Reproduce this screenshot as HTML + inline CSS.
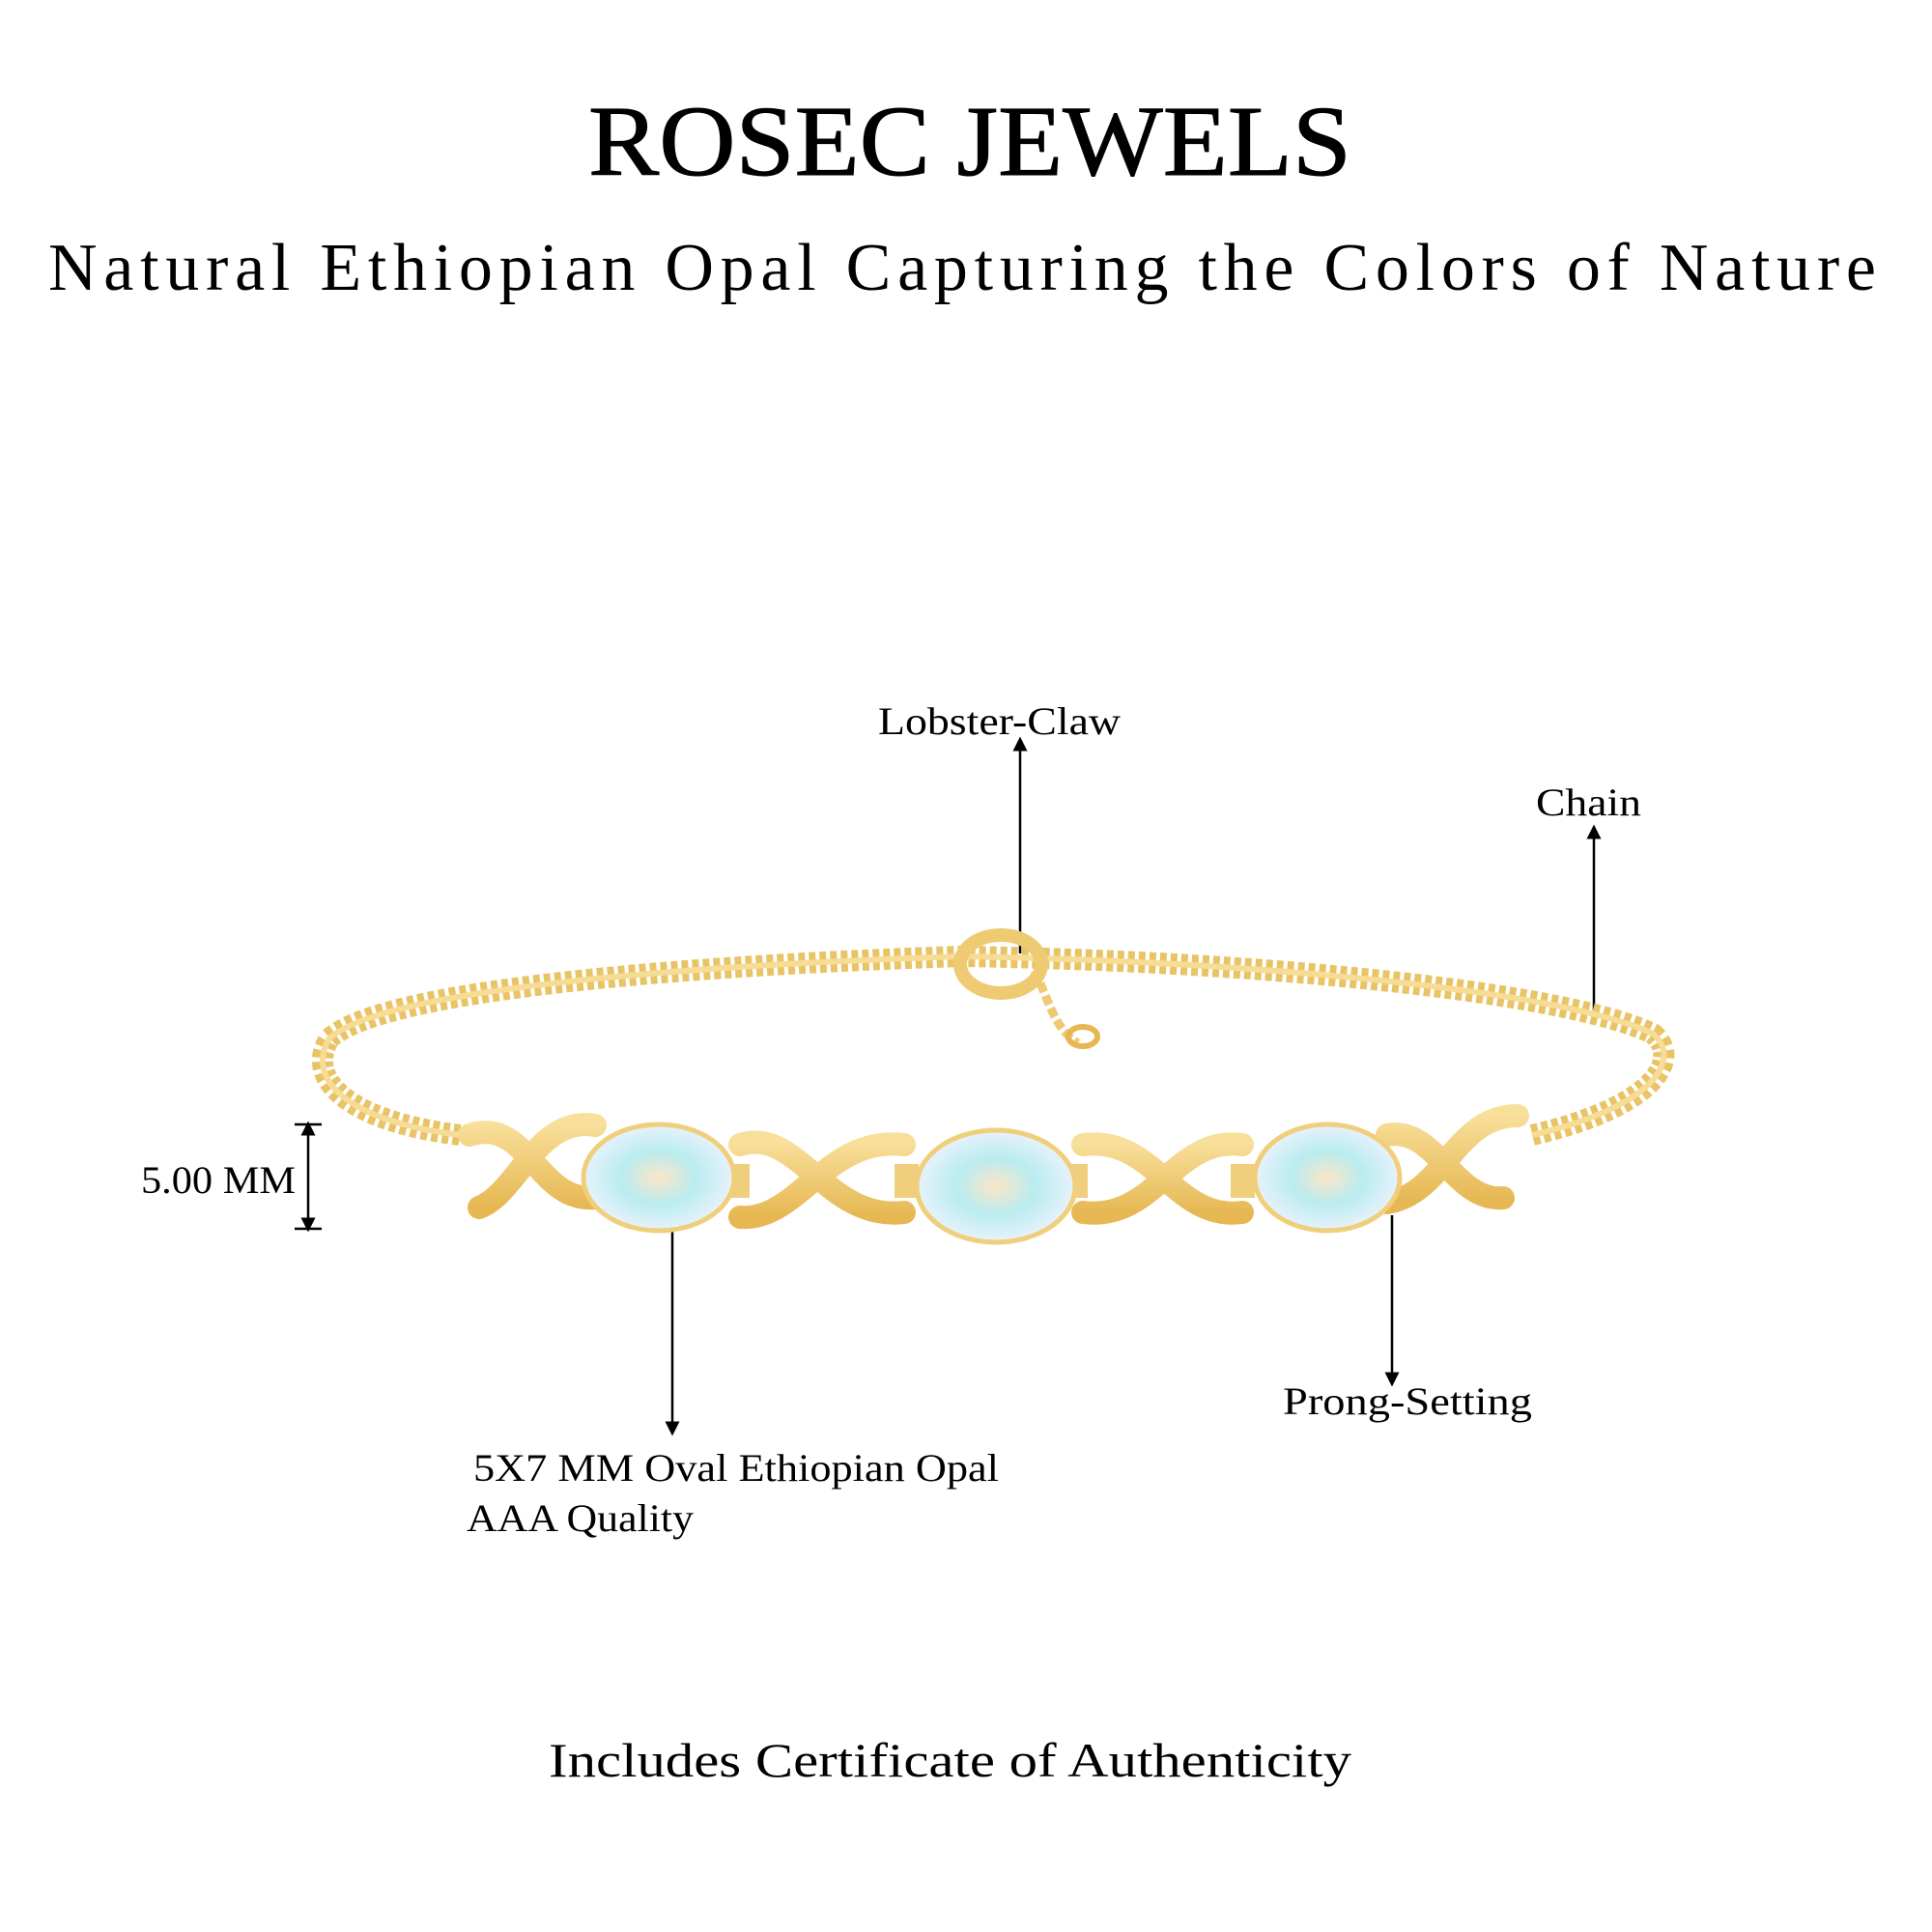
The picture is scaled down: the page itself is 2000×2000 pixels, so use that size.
<!DOCTYPE html>
<html><head><meta charset="utf-8"><style>html,body{margin:0;padding:0;background:#fff}svg{display:block}</style></head>
<body>
<svg width="2000" height="2000" viewBox="0 0 2000 2000" xmlns="http://www.w3.org/2000/svg" font-family="'Liberation Serif', serif">
<defs>
<linearGradient id="g" x1="0" y1="0" x2="0" y2="1"><stop offset="0" stop-color="#f8df9a"/><stop offset="1" stop-color="#e6b752"/></linearGradient>
<radialGradient id="o"><stop offset="0" stop-color="#fbe6c8"/><stop offset="0.5" stop-color="#b9ecf0"/><stop offset="1" stop-color="#e8f2fb"/></radialGradient>
<marker id="a" viewBox="0 0 10 10" refX="5" refY="5" markerWidth="6" markerHeight="6" orient="auto-start-reverse"><path d="M0,0L10,5L0,10z" fill="#000"/></marker>
</defs>
<g transform="translate(-4,-5)">
<text x="1008" y="186" font-size="104" text-anchor="middle" textLength="790" lengthAdjust="spacingAndGlyphs" stroke="#000" stroke-width="1">ROSEC JEWELS</text>
<text x="1000" y="305" font-size="70" text-anchor="middle" textLength="1892" lengthAdjust="spacing">Natural Ethiopian Opal Capturing the Colors of Nature</text>
<text x="913" y="765" font-size="40" textLength="251" lengthAdjust="spacingAndGlyphs">Lobster-Claw</text>
<text x="1594" y="849" font-size="40" textLength="109" lengthAdjust="spacingAndGlyphs">Chain</text>
<text x="150" y="1240" font-size="40" textLength="160" lengthAdjust="spacingAndGlyphs">5.00 MM</text>
<text x="494" y="1538" font-size="40" textLength="544" lengthAdjust="spacingAndGlyphs">5X7 MM Oval Ethiopian Opal</text>
<text x="487" y="1590" font-size="40" textLength="235" lengthAdjust="spacingAndGlyphs">AAA Quality</text>
<text x="1332" y="1469" font-size="40" textLength="258" lengthAdjust="spacingAndGlyphs">Prong-Setting</text>
<text x="572" y="1844" font-size="50" textLength="831" lengthAdjust="spacingAndGlyphs">Includes Certificate of Authenticity</text>
<g stroke="#000" stroke-width="2.5" fill="none">
<line x1="1060" y1="992" x2="1060" y2="775" marker-end="url(#a)"/>
<line x1="1654" y1="1058" x2="1654" y2="866" marker-end="url(#a)"/>
<line x1="700" y1="1276" x2="700" y2="1484" marker-end="url(#a)"/>
<line x1="1445" y1="1263" x2="1445" y2="1433" marker-end="url(#a)"/>
<line x1="323" y1="1173" x2="323" y2="1273" marker-start="url(#a)" marker-end="url(#a)"/>
<line x1="309" y1="1169" x2="337" y2="1169"/><line x1="309" y1="1277" x2="337" y2="1277"/>
</g>
<path d="M480,1180 C360,1165 320,1120 345,1080 C400,1030 700,1005 1000,995 C1300,1000 1620,1030 1715,1075 C1745,1100 1720,1150 1590,1180" fill="none" stroke="#e9c466" stroke-width="22" stroke-dasharray="7 4"/>
<path d="M480,1180 C360,1165 320,1120 345,1080 C400,1030 700,1005 1000,995 C1300,1000 1620,1030 1715,1075 C1745,1100 1720,1150 1590,1180" fill="none" stroke="#f6dc95" stroke-width="6"/>
<ellipse cx="1040" cy="1003" rx="42" ry="30" fill="none" stroke="#eecb72" stroke-width="14"/>
<path d="M1075,1010 C1090,1040 1095,1070 1120,1085" fill="none" stroke="#eecb72" stroke-width="9" stroke-dasharray="10 4"/>
<ellipse cx="1125" cy="1078" rx="15" ry="10" fill="none" stroke="#e6b752" stroke-width="6"/>
<g fill="none" stroke="url(#g)" stroke-width="24" stroke-linecap="round">
<path d="M490,1180 C550,1160 560,1250 620,1245 M500,1255 C540,1240 560,1160 620,1170"/>
<path d="M770,1190 C830,1170 860,1270 940,1260 M770,1265 C830,1270 860,1180 940,1190"/>
<path d="M1125,1190 C1200,1180 1220,1270 1290,1260 M1125,1260 C1200,1270 1220,1180 1290,1190"/>
<path d="M1440,1180 C1490,1170 1510,1250 1560,1245 M1440,1250 C1500,1240 1510,1160 1575,1160"/>
</g>
<g fill="#f0cf7c">
<rect x="755" y="1210" width="25" height="35"/><rect x="930" y="1210" width="25" height="35"/>
<rect x="1105" y="1210" width="25" height="35"/><rect x="1278" y="1210" width="25" height="35"/>
</g>
<g stroke="#f0cf7c" stroke-width="5">
<ellipse cx="686" cy="1224" rx="78" ry="55" fill="url(#o)"/>
<ellipse cx="1035" cy="1233" rx="82" ry="58" fill="url(#o)"/>
<ellipse cx="1378" cy="1224" rx="75" ry="55" fill="url(#o)"/>
</g>
</g>
</svg>
</body></html>
